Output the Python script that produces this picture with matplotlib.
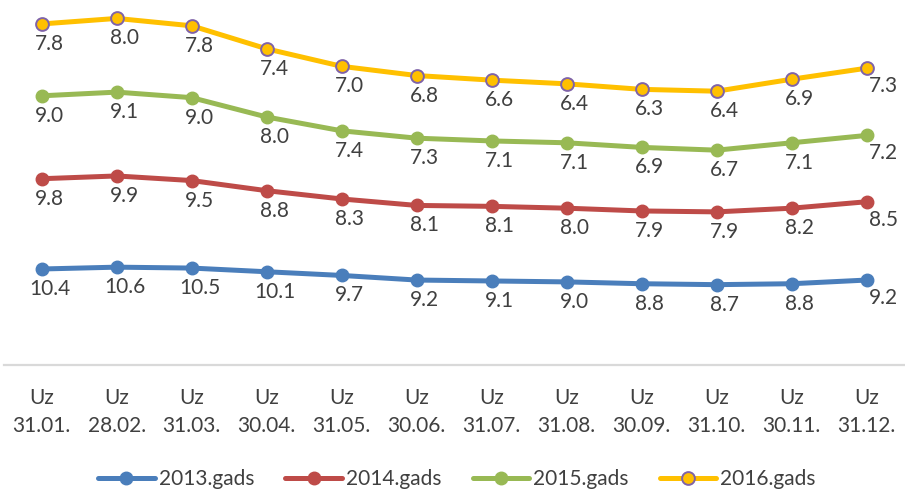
import matplotlib.pyplot as plt
import numpy as np

plt.rcParams['font.family'] = ['Lato', 'DejaVu Sans']

# Dati (uzkrātā līniju diagramma - vērtības tiek summētas)
months = ['31.01.', '28.02.', '31.03.', '30.04.', '31.05.', '30.06.',
          '31.07.', '31.08.', '30.09.', '31.10.', '30.11.', '31.12.']
tick_labels = ['Uz\n' + m for m in months]

series_names = ['2013.gads', '2014.gads', '2015.gads', '2016.gads']
v2013 = [10.4, 10.6, 10.5, 10.1, 9.7, 9.2, 9.1, 9.0, 8.8, 8.7, 8.8, 9.2]
v2014 = [9.8, 9.9, 9.5, 8.8, 8.3, 8.1, 8.1, 8.0, 7.9, 7.9, 8.2, 8.5]
v2015 = [9.0, 9.1, 9.0, 8.0, 7.4, 7.3, 7.1, 7.1, 6.9, 6.7, 7.1, 7.2]
v2016 = [7.8, 8.0, 7.8, 7.4, 7.0, 6.8, 6.6, 6.4, 6.3, 6.4, 6.9, 7.3]

colors = ['#4A7EBB', '#BE4B48', '#98B954', '#FFC000']
text_col = '#404040'

values = np.array([v2013, v2014, v2015, v2016])
stacked = np.cumsum(values, axis=0)
x = np.arange(len(months))

fig = plt.figure(figsize=(9.05, 4.9), dpi=100)
ax = fig.add_axes([4.2 / 905, 1 - 364.8 / 490, 900 / 905, 364.8 / 490])

for i, name in enumerate(series_names):
    if i == 3:
        ax.plot(x, stacked[i], color=colors[i], lw=3.6, marker='o', ms=9.2,
                mfc=colors[i], mec='#7F63A8', mew=1.4, label=name,
                solid_capstyle='round')
    else:
        ax.plot(x, stacked[i], color=colors[i], lw=3.6, marker='o', ms=9,
                mfc=colors[i], mec=colors[i], label=name,
                solid_capstyle='round')
    # vērtību etiķetes zem punktiem
    for j in range(len(x)):
        dx = 17 if j == len(x) - 1 else 8
        dy = -24 if j == len(x) - 1 else -26
        ax.annotate(f'{values[i, j]:.1f}', (x[j], stacked[i, j]),
                    xytext=(dx, dy), textcoords='offset pixels',
                    ha='center', va='baseline', fontsize=15, color=text_col,
                    annotation_clip=False)

ax.set_xlim(-0.5, 11.5)
ax.set_ylim(0, 39.6)
ax.set_yticks([])
ax.set_xticks(x)
ax.set_xticklabels(tick_labels, fontsize=15, color=text_col, linespacing=1.45)
ax.tick_params(axis='x', length=0, pad=17)
for s in ['top', 'left', 'right']:
    ax.spines[s].set_visible(False)
ax.spines['bottom'].set_color('#D9D9D9')
ax.spines['bottom'].set_linewidth(1.6)
ax.patch.set_alpha(0)

fig.legend(loc='center', bbox_to_anchor=(0.505, 1 - 479 / 490), ncol=4,
           frameon=False, fontsize=15, handlelength=2.7, handletextpad=0.2,
           columnspacing=1.5, labelcolor=text_col, borderaxespad=0)

fig.savefig('out.png', dpi=100)
